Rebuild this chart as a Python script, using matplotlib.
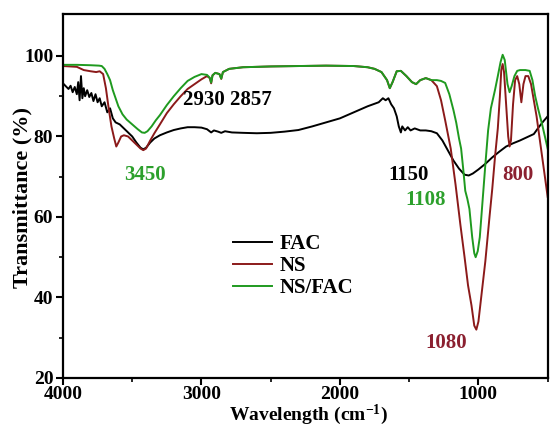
import numpy as np
import matplotlib
matplotlib.use('Agg')
import matplotlib.pyplot as plt

plt.rcParams['font.family'] = ['Liberation Serif', 'DejaVu Serif']
plt.rcParams['font.weight'] = 'bold'
plt.rcParams['mathtext.fontset'] = 'custom'
plt.rcParams['mathtext.rm'] = 'Liberation Serif:bold'
plt.rcParams['mathtext.default'] = 'rm'

# ---------------------------------------------
# DATOS
# ---------------------------------------------
fac_wn = [4000, 3980, 3960, 3945, 3930, 3915, 3900, 3890, 3880, 3870, 3860, 3850,
          3840, 3825, 3810, 3795, 3780, 3765, 3750, 3735, 3720, 3700, 3680, 3660,
          3640, 3620, 3590, 3560, 3530, 3500, 3470, 3440, 3420, 3400, 3370, 3340,
          3300, 3250, 3200, 3150, 3100, 3050, 3000, 2960, 2930, 2910, 2880, 2857,
          2830, 2780, 2700, 2600, 2500, 2400, 2300, 2200, 2100, 2000, 1900, 1800,
          1720, 1690, 1670, 1650, 1630, 1610, 1590, 1575, 1560, 1550, 1530, 1510,
          1490, 1460, 1420, 1380, 1340, 1300, 1260, 1220, 1180, 1140, 1100, 1070,
          1040, 1000, 950, 900, 850, 800, 750, 700, 650, 600, 560, 530, 500]
fac_t = [93.2, 92.5, 91.8, 92.6, 91.0, 92.3, 90.5, 93.5, 89.0, 95.0, 89.5, 92.0,
         90.0, 91.5, 89.8, 90.8, 88.8, 90.5, 88.5, 89.5, 87.5, 88.5, 86.0, 87.0,
         84.5, 83.5, 83.0, 82.0, 81.0, 80.0, 78.5, 77.2, 76.8, 77.2, 78.5, 79.5,
         80.3, 81.0, 81.6, 82.0, 82.3, 82.3, 82.2, 81.8, 81.0, 81.5, 81.2, 80.9,
         81.3, 81.0, 80.9, 80.8, 80.9, 81.2, 81.6, 82.5, 83.5, 84.5, 86.0, 87.5,
         88.5, 89.5, 89.0, 89.5, 88.0, 87.0, 85.0, 82.5, 81.0, 82.5, 81.5, 82.3,
         81.5, 82.0, 81.5, 81.5, 81.3, 80.8, 79.0, 76.5, 74.0, 72.0, 70.5, 70.3,
         70.8, 71.8, 73.2, 74.8, 76.2, 77.5, 78.3, 79.0, 79.8, 80.6, 82.5, 83.8, 85.0]

ns_wn = [4000, 3900, 3850, 3800, 3760, 3735, 3710, 3690, 3670, 3650, 3630, 3615,
         3600, 3580, 3560, 3530, 3500, 3470, 3440, 3420, 3400, 3370, 3340, 3300,
         3250, 3200, 3150, 3100, 3050, 3000, 2960, 2940, 2930, 2920, 2900, 2870,
         2857, 2845, 2800, 2700, 2500, 2300, 2100, 1900, 1800, 1750, 1700, 1660,
         1640, 1620, 1590, 1560, 1520, 1480, 1450, 1420, 1380, 1340, 1300, 1270,
         1240, 1200, 1165, 1130, 1100, 1075, 1050, 1030, 1015, 1000, 980, 950,
         920, 900, 880, 860, 845, 835, 825, 815, 800, 785, 775, 765, 750, 735,
         720, 705, 690, 675, 660, 640, 620, 600, 580, 560, 540, 520, 500]
ns_t = [97.5, 97.3, 96.5, 96.2, 96.0, 96.2, 95.5, 92.0, 87.0, 82.5, 79.5, 77.5,
        78.5, 80.0, 80.3, 80.0, 79.0, 78.0, 77.0, 76.6, 77.0, 79.0, 80.8, 83.0,
        85.8, 88.0, 90.0, 91.8, 93.0, 94.2, 95.0, 94.5, 93.2, 95.2, 95.8, 95.5,
        94.3, 96.0, 96.8, 97.2, 97.4, 97.5, 97.6, 97.5, 97.2, 96.8, 96.0, 94.0,
        92.0, 93.5, 96.2, 96.3, 95.0, 93.5, 93.0, 94.0, 94.5, 94.0, 92.5, 89.0,
        84.0, 77.0, 68.0, 58.0, 50.0, 43.0, 38.0, 33.0, 32.0, 34.0, 40.0, 49.0,
        60.0, 67.0, 75.0, 82.0, 90.0, 96.5, 98.0, 96.0, 88.0, 80.0, 77.5, 79.0,
        88.0, 94.0, 95.0, 93.0, 88.5, 93.0, 95.0, 95.0, 93.0, 89.0, 85.0, 80.0,
        75.0, 70.0, 65.0]

nsfac_wn = [4000, 3900, 3800, 3740, 3720, 3700, 3680, 3660, 3640, 3620, 3600, 3570,
            3540, 3500, 3460, 3430, 3410, 3390, 3360, 3330, 3300, 3250, 3200, 3150,
            3100, 3050, 3000, 2960, 2940, 2930, 2920, 2900, 2870, 2857, 2845, 2800,
            2700, 2500, 2300, 2100, 1900, 1800, 1750, 1700, 1660, 1640, 1620, 1590,
            1560, 1520, 1480, 1450, 1420, 1380, 1340, 1300, 1270, 1240, 1210, 1180,
            1160, 1140, 1125, 1110, 1095, 1080, 1065, 1045, 1030, 1020, 1005, 990,
            970, 950, 930, 910, 880, 860, 840, 825, 810, 790, 775, 760, 740, 720,
            700, 660, 630, 610, 590, 570, 540, 520, 500]
nsfac_t = [97.8, 97.8, 97.7, 97.6, 97.5, 96.8, 95.5, 94.0, 91.5, 89.5, 87.5, 85.5,
           84.2, 83.0, 81.8, 81.0, 80.9, 81.3, 82.5, 84.0, 85.3, 87.8, 90.0, 92.0,
           93.8, 94.8, 95.5, 95.3, 94.6, 93.4, 95.2, 95.8, 95.5, 94.4, 96.0, 96.8,
           97.2, 97.4, 97.5, 97.6, 97.5, 97.2, 96.8, 96.0, 94.0, 92.0, 93.5, 96.2,
           96.3, 95.0, 93.5, 93.0, 94.0, 94.5, 94.0, 94.0, 93.8, 93.3, 90.5, 86.5,
           83.4, 79.5, 77.0, 72.0, 66.5, 64.5, 62.0, 55.0, 51.0, 50.0, 51.5, 55.0,
           64.0, 73.0, 81.5, 87.0, 91.6, 95.0, 98.5, 100.3, 99.0, 93.0, 91.0, 92.5,
           95.0, 96.3, 96.5, 96.5, 96.3, 94.0, 90.0, 87.0, 83.0, 80.0, 77.0]

etiquetas = ['FAC', 'NS', 'NS/FAC']
colores = ['black', '#8b1a1a', '#1f9a1f']

# ---------------------------------------------
# GRAFICO
# ---------------------------------------------
fig = plt.figure(figsize=(5.5, 4.28), dpi=100)
ax = fig.add_axes([0.1145, 0.117, 0.882, 0.85])

ax.plot(fac_wn, fac_t, color=colores[0], lw=1.4, label=etiquetas[0])
ax.plot(ns_wn, ns_t, color=colores[1], lw=1.4, label=etiquetas[1])
ax.plot(nsfac_wn, nsfac_t, color=colores[2], lw=1.4, label=etiquetas[2])

ax.set_xlim(4000, 497)
ax.set_ylim(20, 110.4)
ax.set_xticks([4000, 3000, 2000, 1000])
ax.set_xticks([3500, 2500, 1500, 500], minor=True)
ax.set_yticks([20, 40, 60, 80, 100])
ax.set_yticks([30, 50, 70, 90], minor=True)
ax.tick_params(which='major', direction='out', length=5, width=1.5, labelsize=14, pad=2)
ax.tick_params(axis='x', which='major', pad=1)
ax.tick_params(which='minor', direction='out', length=3, width=1.2)
for s in ax.spines.values():
    s.set_linewidth(1.6)

ax.set_xlabel('Wavelength (cm$^{-1}$)', fontsize=14, fontweight='bold')
ax.set_ylabel('Transmittance (%)', fontsize=16, fontweight='bold')
ax.xaxis.set_label_coords(0.505, -0.068)
ax.yaxis.set_label_coords(-0.063, 0.495)

# Anotaciones de bandas
fs = 15
ax.text(3410, 70.4, '3450', color='#2ca02c', fontsize=fs, ha='center', va='center')
ax.text(2813, 89.1, '2930 2857', color='black', fontsize=fs, ha='center', va='center')
ax.text(1504, 70.4, '1150', color='black', fontsize=fs, ha='center', va='center')
ax.text(712, 70.4, '800', color='#8b2030', fontsize=fs, ha='center', va='center')
ax.text(1381, 64.2, '1108', color='#2ca02c', fontsize=fs, ha='center', va='center')
ax.text(1230, 28.7, '1080', color='#8b2030', fontsize=fs, ha='center', va='center')

ax.legend(loc='upper left', bbox_to_anchor=(0.35, 0.395), frameon=False,
          fontsize=15, handlelength=1.9, handletextpad=0.35, labelspacing=0.1,
          borderpad=0, borderaxespad=0)

plt.savefig('out.png', dpi=100)
